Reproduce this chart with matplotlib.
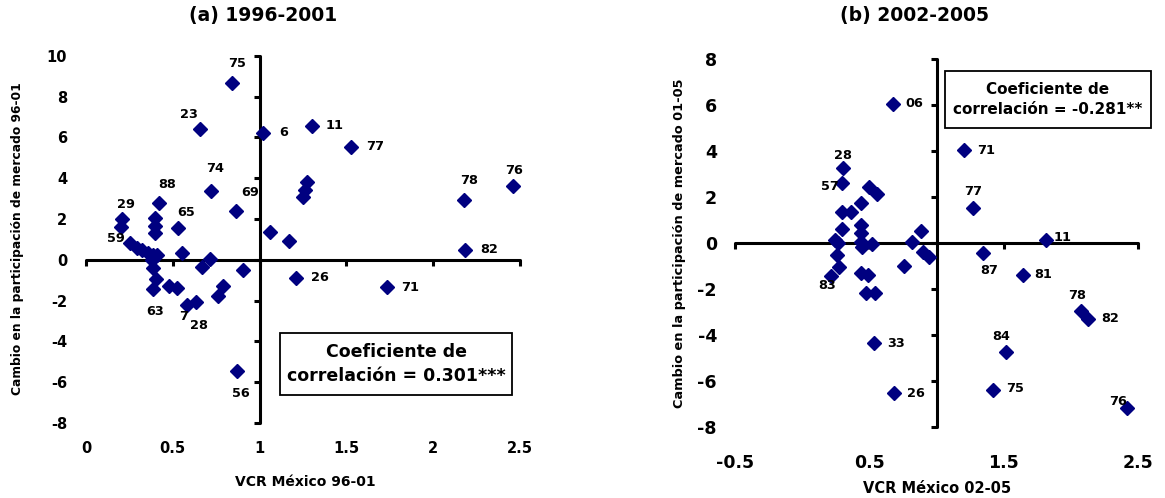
import matplotlib
matplotlib.use("Agg")
import matplotlib.pyplot as plt
from matplotlib.patches import Rectangle

plt.rcParams['font.family'] = ['DejaVu Sans']
plt.rcParams['font.weight'] = 'bold'

# ---- (a) 1996-2001 ----
x_a = [0.843, 0.657, 1.021, 1.30, 1.527, 1.271, 1.262, 1.248, 2.18, 2.462,
       1.06, 1.171, 2.183, 1.21, 1.732, 0.718, 0.862, 0.42, 0.205, 0.20,
       0.397, 0.397, 0.397, 0.528, 0.253, 0.292, 0.321, 0.359, 0.385, 0.41,
       0.378, 0.388, 0.555, 0.714, 0.666, 0.906, 0.403, 0.388, 0.48, 0.522,
       0.791, 0.762, 0.58, 0.634, 0.87]
y_a = [8.68, 6.41, 6.23, 6.57, 5.55, 3.83, 3.43, 3.07, 2.94, 3.62,
       1.34, 0.90, 0.49, -0.87, -1.34, 3.39, 2.41, 2.77, 1.99, 1.60,
       2.05, 1.66, 1.31, 1.58, 0.80, 0.60, 0.47, 0.35, 0.22, 0.24,
       0.0, -0.41, 0.33, 0.03, -0.37, -0.52, -0.95, -1.44, -1.27, -1.40,
       -1.30, -1.76, -2.20, -2.09, -5.43]
lab_a = ['75', '23', '6', '11', '77', '', '', '', '78', '76',
         '', '', '82', '26', '71', '74', '69', '88', '29', '',
         '', '', '', '65', '59', '', '', '', '', '',
         '', '', '', '', '', '', '', '63', '', '',
         '', '', '7', '28', '56']
# label offsets in pixels (dx, dy)
off_a = {'75': (5, 19), '23': (-11, 14), '6': (20, 0), '11': (23, 0), '77': (24, 0),
         '78': (5, 19), '76': (1, 15), '82': (24, 0), '26': (24, 0), '71': (23, 0),
         '74': (4, 22), '69': (15, 18), '88': (8, 19), '29': (4, 15), '65': (8, 15),
         '59': (-14, 5), '63': (2, -22), '7': (-3, -12), '28': (3, -23), '56': (4, -23)}

# ---- (b) 2002-2005 ----
x_b = [0.673, 0.306, 0.294, 0.50, 0.554, 0.435, 0.294, 0.361, 0.294, 0.435,
       0.435, 0.244, 0.269, 0.435, 0.443, 0.517, 0.815, 0.884, 0.897, 0.941,
       0.257, 0.276, 0.212, 0.435, 0.487, 0.475, 0.542, 0.76, 0.537, 0.685,
       1.206, 1.273, 1.812, 1.348, 1.64, 2.074, 2.129, 1.516, 1.422, 2.414]
y_b = [6.05, 3.27, 2.60, 2.42, 2.13, 1.72, 1.36, 1.33, 0.59, 0.78,
       0.44, 0.12, 0.0, 0.05, -0.17, -0.05, 0.05, 0.52, -0.39, -0.61,
       -0.53, -1.04, -1.44, -1.33, -1.38, -2.18, -2.18, -1.01, -4.36, -6.55,
       4.02, 1.53, 0.12, -0.46, -1.38, -2.96, -3.33, -4.75, -6.40, -7.19]
lab_b = ['06', '28', '57', '', '', '', '', '', '', '',
         '', '', '', '', '', '', '', '', '', '',
         '', '', '83', '', '', '', '', '', '33', '26',
         '71', '77', '11', '87', '81', '78', '82', '84', '75', '76']
off_b = {'06': (22, 0), '28': (0, 12), '57': (-12, -3), '83': (-4, -10), '33': (22, 0),
         '26': (22, 0), '71': (22, 0), '77': (0, 16), '11': (17, 3), '87': (6, -17),
         '81': (21, 0), '78': (-4, 15), '82': (22, 1), '84': (-5, 16), '75': (22, 1),
         '76': (-9, 7)}

xt_a = [0, 0.5, 1, 1.5, 2, 2.5]
xtl_a = ['0', '0.5', '1', '1.5', '2', '2.5']
yt_a = [-8, -6, -4, -2, 0, 2, 4, 6, 8, 10]
xt_b = [-0.5, 0.5, 1.5, 2.5]
xtl_b = ['-0.5', '0.5', '1.5', '2.5']
yt_b = [-8, -6, -4, -2, 0, 2, 4, 6, 8]

navy = '#000080'
W, H = 1165, 498
fig = plt.figure(figsize=(W / 100, H / 100), dpi=100)


def make_panel(rect, xs, ys, labs, offs, xlim, ylim, xt, xtl, yt, fs, xpad, ypad):
    ax = fig.add_axes(rect)
    ax.set_xlim(xlim)
    ax.set_ylim(ylim)
    ax.plot(xs, ys, 'D', color=navy, ms=7, clip_on=False, zorder=3)
    for x, y, t in zip(xs, ys, labs):
        if t:
            ax.annotate(t, (x, y), xytext=offs[t], textcoords='offset pixels',
                        ha='center', va='center', fontsize=9.3, fontweight='bold')
    for s in ['top', 'right']:
        ax.spines[s].set_visible(False)
    ax.spines['left'].set_position(('data', 1))
    ax.spines['bottom'].set_position(('data', 0))
    for s in ['left', 'bottom']:
        ax.spines[s].set_linewidth(2.2)
        ax.spines[s].set_capstyle('round')
    ax.set_xticks(xt)
    ax.set_yticks(yt)
    ax.tick_params(direction='out', length=4.5, width=2.2,
                   labelbottom=False, labelleft=False)
    sx = ax.secondary_xaxis(0.0)
    sx.set_xticks(xt, xtl)
    sx.spines['bottom'].set_visible(False)
    sx.tick_params(length=0, pad=xpad, labelsize=fs)
    sy = ax.secondary_yaxis(0.0)
    sy.set_yticks(yt, [str(v) for v in yt])
    sy.spines['left'].set_visible(False)
    sy.tick_params(length=0, pad=ypad, labelsize=fs)
    return ax


ax1 = make_panel([86 / W, 1 - 423 / H, 434 / W, 367.3 / H], x_a, y_a, lab_a, off_a,
                 (0, 2.5), (-8, 10), xt_a, xtl_a, yt_a, 10.5, 13, 13.5)
ax2 = make_panel([735 / W, 1 - 426.7 / H, 403.3 / W, 367.7 / H], x_b, y_b, lab_b, off_b,
                 (-0.5, 2.5), (-8, 8), xt_b, xtl_b, yt_b, 12.5, 20, 13)

# correlation boxes
ax1.add_patch(Rectangle((0.447, 0.076), 0.535, 0.169, transform=ax1.transAxes,
                        fill=False, lw=1.3, ec='black', clip_on=False))
ax1.text(0.7145, 0.16, 'Coeficiente de\ncorrelación = 0.301***', transform=ax1.transAxes,
         ha='center', va='center', fontsize=12.5, fontweight='bold', linespacing=1.4)
ax2.add_patch(Rectangle((0.521, 0.8115), 0.51, 0.1565, transform=ax2.transAxes,
                        fill=False, lw=1.3, ec='black', clip_on=False))
ax2.text(0.776, 0.89, 'Coeficiente de\ncorrelación = -0.281**', transform=ax2.transAxes,
         ha='center', va='center', fontsize=11, fontweight='bold', linespacing=1.45)

# titles and axis titles
fig.text(263 / W, 1 - 15 / H, '(a) 1996-2001', ha='center', va='center', fontsize=13.5)
fig.text(915 / W, 1 - 15 / H, '(b) 2002-2005', ha='center', va='center', fontsize=13.5)
fig.text(305 / W, 1 - 482 / H, 'VCR México 96-01', ha='center', va='center', fontsize=10)
fig.text(937 / W, 1 - 488 / H, 'VCR México 02-05', ha='center', va='center', fontsize=10.5)
fig.text(18 / W, 1 - 239 / H, 'Cambio en la participación de mercado 96-01',
         rotation=90, ha='center', va='center', fontsize=8.8)
fig.text(680 / W, 1 - 243 / H, 'Cambio en la participación de mercado 01-05',
         rotation=90, ha='center', va='center', fontsize=9.3)

fig.savefig('out.png', dpi=100)
